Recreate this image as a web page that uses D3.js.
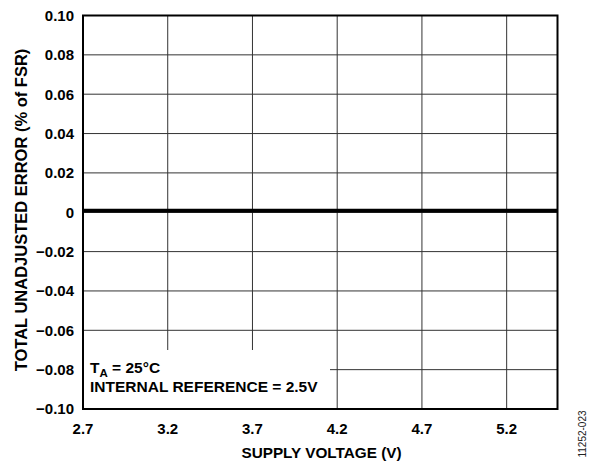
<!DOCTYPE html>
<html><head><meta charset="utf-8">
<script src="https://cdn.jsdelivr.net/npm/d3@7"></script>
<style>body{margin:0;background:#fff}svg{display:block}text{font-family:"Liberation Sans",Arial,sans-serif}</style>
</head><body>
<svg id="c" width="599" height="465"></svg>
<script>
const xTicks = [2.7, 3.2, 3.7, 4.2, 4.7, 5.2];
const yTicks = [0.10, 0.08, 0.06, 0.04, 0.02, 0, -0.02, -0.04, -0.06, -0.08, -0.10];
const yTickLabels = ["0.10","0.08","0.06","0.04","0.02","0","\u22120.02","\u22120.04","\u22120.06","\u22120.08","\u22120.10"];
const voltage = [2.7, 2.9, 3.1, 3.3, 3.5, 3.7, 3.9, 4.1, 4.3, 4.5, 4.7, 4.9, 5.1, 5.3, 5.5];
const tue = [0.0008, 0.0008, 0.0008, 0.0008, 0.0008, 0.0008, 0.0008, 0.0008, 0.0008, 0.0008, 0.0008, 0.0008, 0.0008, 0.0008, 0.0008];
const xTitle = "SUPPLY VOLTAGE (V)";
const yTitle = "TOTAL UNADJUSTED ERROR (% of FSR)";
const legendLines = ["T", "A", " = 25°C", "INTERNAL REFERENCE = 2.5V"];
const figId = "11252-023";

const svg = d3.select("#c");
const L = 83, R = 557.5, T = 15.5, B = 409;
const x = d3.scaleLinear().domain([2.7, 5.5]).range([L, R]);
const y = d3.scaleLinear().domain([-0.10, 0.10]).range([B, T]);

const g = svg.append("g");
// grid
g.selectAll(".vg").data(xTicks.slice(1)).join("line")
  .attr("x1", d => x(d)).attr("x2", d => x(d)).attr("y1", T).attr("y2", B)
  .attr("stroke", "#333").attr("stroke-width", 1);
g.selectAll(".hg").data(yTicks.slice(1, -1)).join("line")
  .attr("x1", L).attr("x2", R).attr("y1", d => y(d)).attr("y2", d => y(d))
  .attr("stroke", "#333").attr("stroke-width", 1);

// data line
const line = d3.line().x((d, i) => x(voltage[i])).y(d => y(d));
g.append("path").datum(tue).attr("d", line).attr("fill", "none")
  .attr("stroke", "#000").attr("stroke-width", 4);

// legend box
g.append("rect").attr("x", L).attr("y", 350).attr("width", 330 - L).attr("height", B - 350).attr("fill", "#fff");

// border
g.append("rect").attr("x", L).attr("y", T).attr("width", R - L).attr("height", B - T)
  .attr("fill", "none").attr("stroke", "#000").attr("stroke-width", 2);

// y tick labels
g.selectAll(".yl").data(yTicks).join("text")
  .attr("x", 74).attr("y", d => y(d)).attr("dy", "0.36em")
  .attr("text-anchor", "end").attr("font-size", 15).attr("font-weight", "bold")
  .text((d, i) => yTickLabels[i]);
// x tick labels
g.selectAll(".xl").data(xTicks).join("text")
  .attr("x", d => x(d)).attr("y", 433.5)
  .attr("text-anchor", "middle").attr("font-size", 15).attr("font-weight", "bold")
  .text(d => d3.format(".1f")(d));

// titles
svg.append("text").attr("x", 321.5).attr("y", 458).attr("text-anchor", "middle")
  .attr("font-size", 15.3).attr("font-weight", "bold").text(xTitle);
svg.append("text").attr("transform", `translate(26.5,210) rotate(-90)`).attr("text-anchor", "middle")
  .attr("font-size", 16.5).attr("font-weight", "bold").text(yTitle);

// legend text
const t1 = svg.append("text").attr("x", 90).attr("y", 372.5).attr("font-size", 15.5).attr("font-weight", "bold");
t1.append("tspan").text(legendLines[0]);
t1.append("tspan").attr("font-size", 11.5).attr("dy", 4).text(legendLines[1]);
t1.append("tspan").attr("dy", -4).text(legendLines[2]);
svg.append("text").attr("x", 90).attr("y", 391.8).attr("font-size", 15.5).attr("font-weight", "bold").text(legendLines[3]);

// fig id
svg.append("text").attr("transform", "translate(586,434) rotate(-90)").attr("text-anchor", "middle")
  .attr("font-size", 10).attr("fill", "#222").text(figId);
</script>
</body></html>
